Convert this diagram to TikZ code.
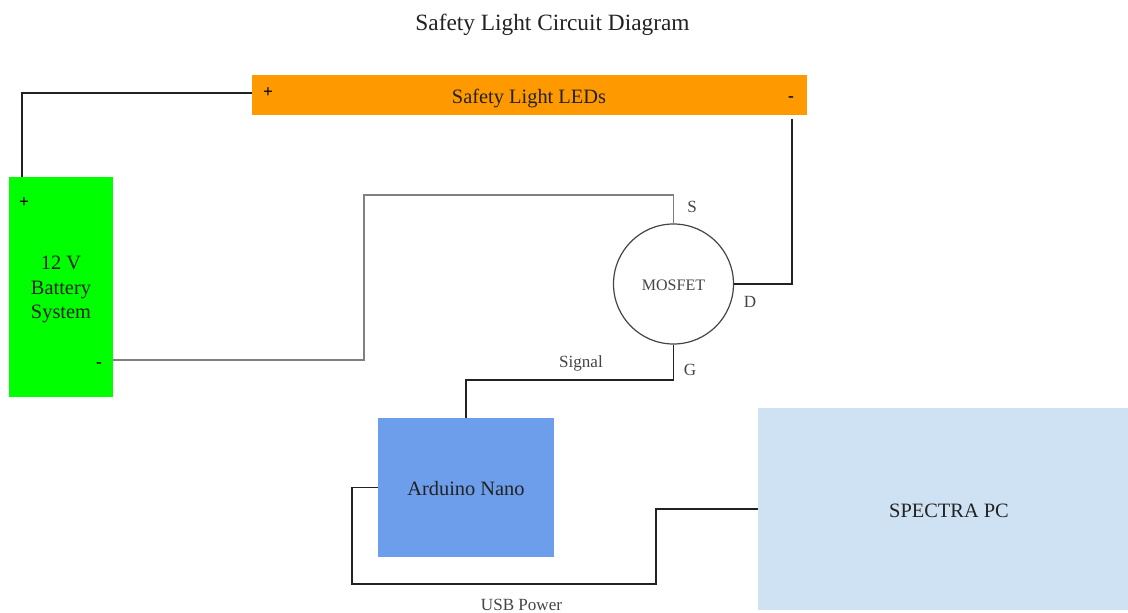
\documentclass[tikz,border=0pt]{standalone}
\usepackage{fontspec}
\setmainfont{Liberation Serif}
\usetikzlibrary{positioning}
\definecolor{ledorange}{HTML}{FF9900}
\definecolor{battgreen}{HTML}{00FF00}
\definecolor{nanoblue}{HTML}{6D9EEB}
\definecolor{pcblue}{HTML}{CFE2F3}
\definecolor{inkdark}{HTML}{222222}
\definecolor{inkgrey}{HTML}{444444}
\tikzset{
  x=0.75pt, y=-0.75pt,
  block/.style={inner sep=0pt, outer sep=0pt, text=inkdark, font=\fontsize{15.3}{18.6}\selectfont, align=center},
  tag/.style={inner sep=0pt, text=inkgrey, font=\fontsize{12.8}{15}\selectfont},
  sign/.style={inner sep=0pt, text=black, font=\bfseries\fontsize{13}{15}\selectfont},
  wire/.style={draw=inkdark, line width=1.4pt},
  thinwire/.style={draw=gray, line width=1pt},
}
\begin{document}
\begin{tikzpicture}
  \useasboundingbox (0,0) rectangle (1128,613);
  \node [inner sep=0pt, text=inkdark, font=\fontsize{17.5}{20}\selectfont] (title) at (552.5,25) {Safety Light Circuit Diagram};
  \node [block, fill=ledorange, minimum width=416.25pt, minimum height=30pt, text height=15pt] (leds) at (529,95.5) {Safety Light LEDs};
  \node [block, fill=battgreen, minimum width=78pt, minimum height=165pt] (battery) at (61,287) {\rule{0pt}{14pt}12 V\\Battery\\System};
  \node [block, fill=nanoblue, minimum width=132pt, minimum height=104.25pt, text height=12.5pt] (nano) at (466,487.5) {Arduino Nano};
  \node [block, fill=pcblue, minimum width=277.5pt, minimum height=151.5pt, text height=12.5pt] (pc) at (943,509) {\hspace*{9pt}SPECTRA PC};
  \node [circle, draw=inkgrey, line width=0.9pt, minimum size=90pt, inner sep=0pt, text=inkgrey, text height=9.5pt, font=\fontsize{12}{14}\selectfont] (mosfet) at (673.5,284) {MOSFET};
  % pins
  \node [sign] (ledplus) at (268,93) {+};
  \node [sign] (ledminus) at (791,99) {-};
  \node [sign] (battplus) at (24,203) {+};
  \node [sign] (battminus) at (99,365) {-};
  \node [tag] (pins) at (692,207) {S};
  \node [tag] (pind) at (750,302) {D};
  \node [tag] (ping) at (690,370) {G};
  \node [tag] (signal) at (581,363) {Signal};
  \node [tag] (usb) at (521.5,604.5) {USB Power};
  \coordinate (ledend) at (792,119);
  % wires
  \draw [wire] (battery.north -| 22,0) |- (leds.west |- 0,93);
  \draw [wire] (ledend) |- (mosfet.east);
  \draw [thinwire] (battery.east |- 0,360) -| (364,195) -| (mosfet.north);
  \draw [wire] (mosfet.south) |- (466,380) -- (nano.north -| 466,0);
  \draw [wire] (nano.west) -- (nano.west -| 352,0) |- (656,584) |- (pc.west);
\end{tikzpicture}
\end{document}
